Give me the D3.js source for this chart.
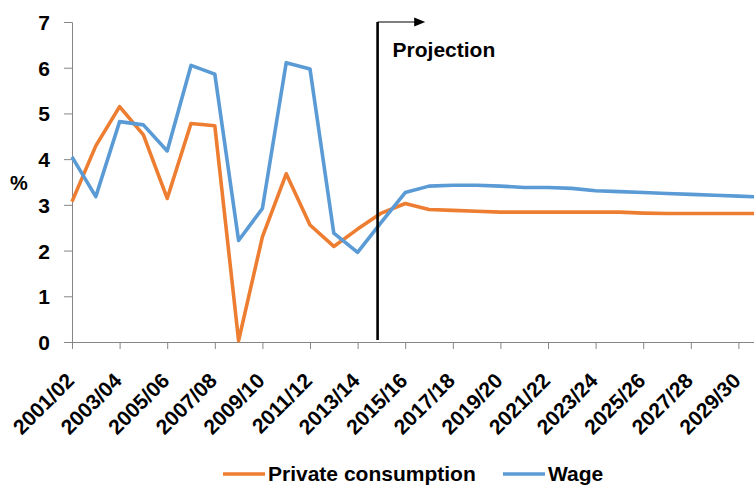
<!DOCTYPE html>
<html>
<head>
<meta charset="utf-8">
<script src="https://cdn.jsdelivr.net/npm/d3@7"></script>
<style>
  html, body { margin: 0; padding: 0; background: #fff; }
  svg { display: block; }
  text { font-family: "Liberation Sans", Arial, sans-serif; font-weight: bold; fill: #000; }
</style>
</head>
<body>
<svg id="chart" width="754" height="485"></svg>
<script>
const categories = ["2001/02","2002/03","2003/04","2004/05","2005/06","2006/07","2007/08","2008/09","2009/10","2010/11",
  "2011/12","2012/13","2013/14","2014/15","2015/16","2016/17","2017/18","2018/19","2019/20","2020/21",
  "2021/22","2022/23","2023/24","2024/25","2025/26","2026/27","2027/28","2028/29","2029/30","2030/31"];
const privateConsumption = [3.07, 4.29, 5.15, 4.53, 3.14, 4.78, 4.73, 0.03, 2.30, 3.68,
  2.56, 2.09, 2.47, 2.82, 3.03, 2.90, 2.88, 2.86, 2.84, 2.84,
  2.84, 2.84, 2.84, 2.84, 2.82, 2.81, 2.81, 2.81, 2.81, 2.81];
const wage = [4.05, 3.18, 4.82, 4.75, 4.18, 6.05, 5.86, 2.22, 2.92, 6.11,
  5.97, 2.38, 1.96, 2.62, 3.27, 3.41, 3.43, 3.43, 3.41, 3.38,
  3.38, 3.36, 3.31, 3.29, 3.27, 3.25, 3.23, 3.21, 3.19, 3.17];
const yTicks = [0, 1, 2, 3, 4, 5, 6, 7];
const xLabelEvery = 2;
const projectionStart = 12.84; // position along category axis (index units)
const projectionLabel = "Projection";
const yAxisTitle = "%";
const seriesNames = ["Private consumption", "Wage"];
const seriesColors = ["#ED7D31", "#5B9BD5"];

const svg = d3.select("#chart");
const plot = { left: 72, top: 22, bottom: 342, step: 23.8 };

const x = d3.scaleLinear()
  .domain([0, categories.length - 1])
  .range([plot.left, plot.left + plot.step * (categories.length - 1)]);
const y = d3.scaleLinear().domain([0, 7]).range([plot.bottom, plot.top]);

// Y axis
const yAxis = svg.append("g")
  .attr("transform", `translate(${plot.left},0)`)
  .call(d3.axisLeft(y).tickValues(yTicks).tickSize(8).tickPadding(14).tickFormat(d3.format("d")));
yAxis.selectAll("path, line").attr("stroke", "#868686");
yAxis.selectAll("text").style("font-size", "21px").attr("dy", "0.36em");

// X axis
const xTickIdx = d3.range(0, categories.length, xLabelEvery);
const xAxis = svg.append("g")
  .attr("transform", `translate(0,${plot.bottom})`)
  .call(d3.axisBottom(x).tickValues(xTickIdx).tickSize(7).tickSizeOuter(0)
    .tickFormat(i => categories[i]));
xAxis.select(".domain").attr("d", `M${plot.left},0.5H${x.range()[1] + 20}`);
xAxis.selectAll("path, line").attr("stroke", "#868686");
xAxis.selectAll("text")
  .style("font-size", "21px")
  .style("text-anchor", "end")
  .attr("y", 0).attr("dy", 0)
  .attr("transform", "translate(3,40) rotate(-45)");

// Y title
svg.append("text")
  .attr("x", 19).attr("y", 183).attr("dy", "0.36em")
  .attr("text-anchor", "middle")
  .style("font-size", "20px")
  .text(yAxisTitle);

// Lines
const line = d3.line().x((d, i) => x(i)).y(d => y(d));
[privateConsumption, wage].forEach((s, k) => {
  svg.append("path")
    .datum(s)
    .attr("fill", "none")
    .attr("stroke", seriesColors[k])
    .attr("stroke-width", 3.6)
    .attr("stroke-linejoin", "round")
    .attr("d", line);
});

// Projection marker
const px = x(projectionStart);
svg.append("line")
  .attr("x1", px).attr("x2", px)
  .attr("y1", y(7)).attr("y2", y(0) - 2)
  .attr("stroke", "#000").attr("stroke-width", 2.6);
const ax = px + 2 * plot.step;
svg.append("line")
  .attr("x1", px).attr("x2", ax - 10)
  .attr("y1", y(7)).attr("y2", y(7))
  .attr("stroke", "#000").attr("stroke-width", 1.2);
svg.append("path")
  .attr("d", `M${ax - 11},${y(7) - 4.5}L${ax},${y(7)}L${ax - 11},${y(7) + 4.5}Z`)
  .attr("fill", "#000");
svg.append("text")
  .attr("x", px + 15).attr("y", 57)
  .style("font-size", "21px")
  .text(projectionLabel);

// Legend
const legend = svg.append("g");
const legendItems = [
  { name: seriesNames[0], color: seriesColors[0], x: 223 },
  { name: seriesNames[1], color: seriesColors[1], x: 503 }
];
legendItems.forEach(it => {
  legend.append("line")
    .attr("x1", it.x).attr("x2", it.x + 42)
    .attr("y1", 474).attr("y2", 474)
    .attr("stroke", it.color).attr("stroke-width", 3.6);
  legend.append("text")
    .attr("x", it.x + 45).attr("y", 481)
    .style("font-size", "21px")
    .text(it.name);
});
</script>
</body>
</html>
